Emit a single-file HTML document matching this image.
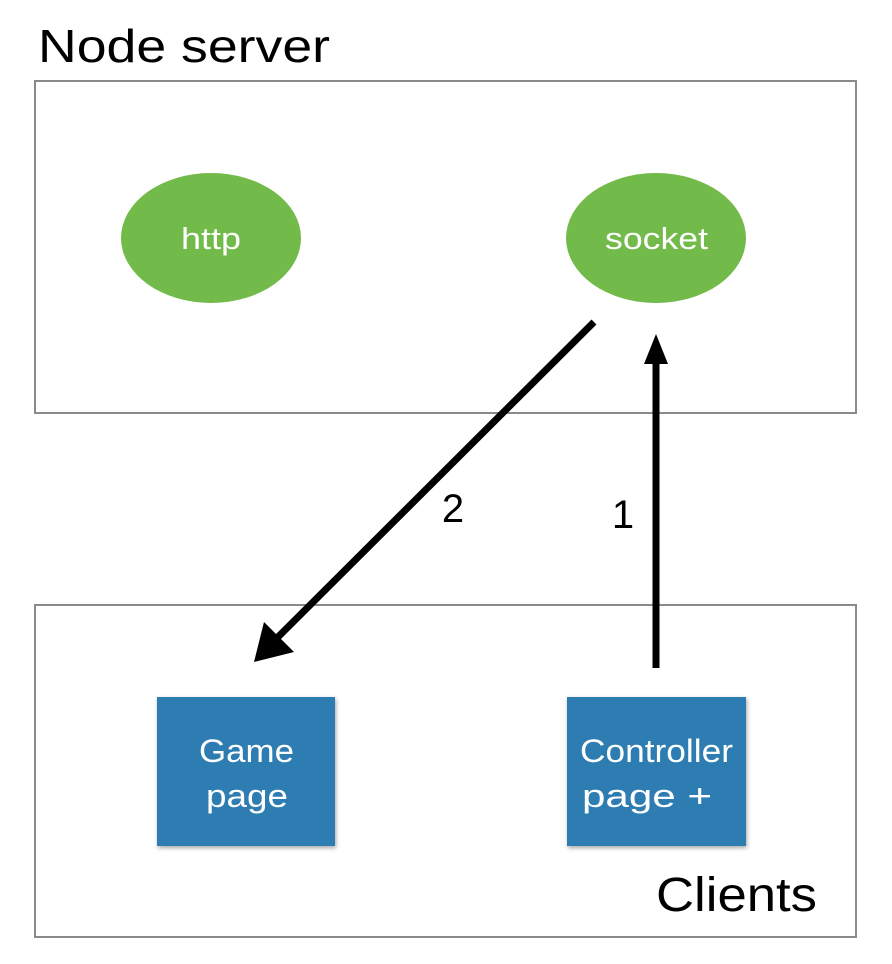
<!DOCTYPE html>
<html><head><style>
html,body{margin:0;padding:0;background:#fff;}
svg{display:block;}
text{font-family:"Liberation Sans",sans-serif;}
</style></head><body>
<svg width="892" height="964" viewBox="0 0 892 964" xmlns="http://www.w3.org/2000/svg">
<defs>
<filter id="sh" x="-10%" y="-10%" width="130%" height="130%"><feDropShadow dx="1" dy="2" stdDeviation="2" flood-color="#000" flood-opacity="0.35"/></filter>
</defs>
<text x="38" y="62" font-size="46" fill="#000" textLength="292" lengthAdjust="spacingAndGlyphs">Node server</text>
<rect x="35" y="81" width="821" height="332" fill="none" stroke="#8a8a8a" stroke-width="2"/>
<rect x="35" y="605" width="821" height="332" fill="none" stroke="#8a8a8a" stroke-width="2"/>
<ellipse cx="211" cy="238" rx="90" ry="65" fill="#72bb4a"/>
<ellipse cx="656" cy="238" rx="90" ry="65" fill="#72bb4a"/>
<text x="181" y="249" font-size="31" fill="#fff" textLength="60" lengthAdjust="spacingAndGlyphs">http</text>
<text x="605" y="249" font-size="31" fill="#fff" textLength="103" lengthAdjust="spacingAndGlyphs">socket</text>
<line x1="594" y1="322" x2="275" y2="640" stroke="#000" stroke-width="7"/>
<polygon points="254,662 264,622 294,652" fill="#000"/>
<line x1="656" y1="668" x2="656" y2="360" stroke="#000" stroke-width="7"/>
<polygon points="656,334 644,364 668,364" fill="#000"/>
<text x="453" y="522" font-size="40" fill="#000" text-anchor="middle">2</text>
<text x="623" y="528" font-size="40" fill="#000" text-anchor="middle">1</text>
<rect x="157" y="697" width="178" height="149" fill="#2f7db2" filter="url(#sh)"/>
<rect x="567" y="697" width="179" height="149" fill="#2f7db2" filter="url(#sh)"/>
<text x="199" y="762" font-size="32" fill="#fff" textLength="95" lengthAdjust="spacingAndGlyphs">Game</text>
<text x="206" y="807" font-size="32" fill="#fff" textLength="82" lengthAdjust="spacingAndGlyphs">page</text>
<text x="580" y="762" font-size="32" fill="#fff" textLength="153" lengthAdjust="spacingAndGlyphs">Controller</text>
<text x="582" y="807" font-size="32" fill="#fff" textLength="130" lengthAdjust="spacingAndGlyphs">page +</text>
<text x="656" y="911" font-size="48" fill="#000" textLength="161" lengthAdjust="spacingAndGlyphs">Clients</text>
</svg>
</body></html>
